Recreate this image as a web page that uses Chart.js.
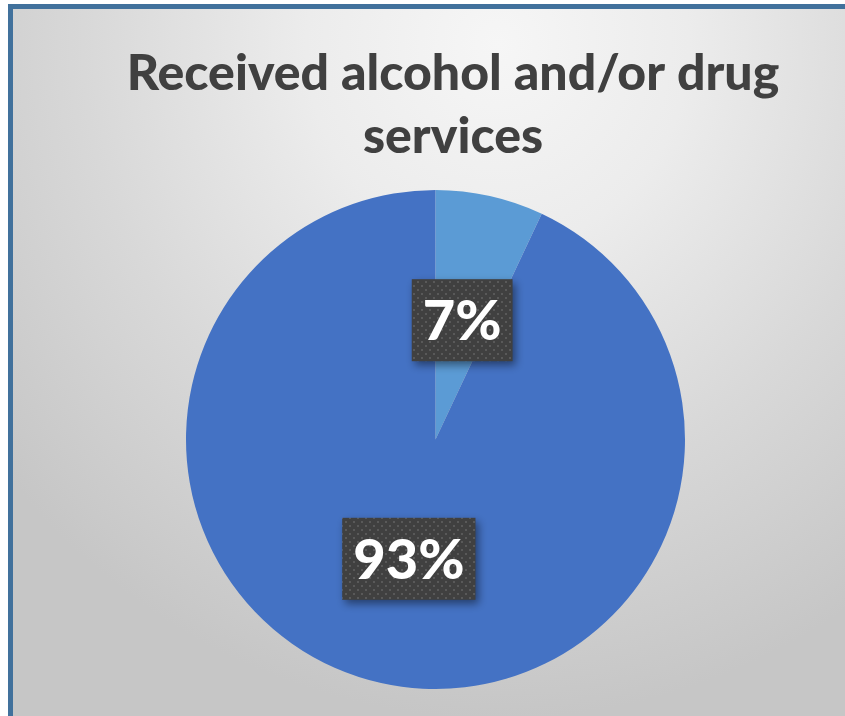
<!DOCTYPE html>
<html>
<head>
<meta charset="utf-8">
<script src="https://cdn.jsdelivr.net/npm/chart.js@4/dist/chart.umd.min.js"></script>
<style>
  html, body { margin: 0; padding: 0; width: 845px; height: 716px; overflow: hidden; background: #ffffff; }
  #frame {
    position: absolute; left: 8px; top: 4px; width: 850px; height: 710px;
    border-left: 5px solid #41719C; border-top: 5px solid #41719C; border-bottom: 2px solid #a9afb8;
    background: radial-gradient(ellipse 75% 95% at 57% 5%, #f6f6f6 0%, #ececec 30%, #d8d8d8 65%, #c6c6c6 100%);
  }
  #c { position: absolute; left: 0; top: 0; }
</style>
</head>
<body>
<div id="frame"></div>
<canvas id="c" width="845" height="716"></canvas>
<script>
const titleLines = ["Received alcohol and/or drug", "services"];
const categories = ["Yes", "No"];
const percentValues = [7, 93];
const sliceColors = ["#5B9BD5", "#4472C4"];

const FONT = "Lato, 'Open Sans', sans-serif";

function makeDotPattern(ctx) {
  const p = document.createElement('canvas');
  p.width = 8; p.height = 8;
  const g = p.getContext('2d');
  g.fillStyle = '#404040';
  g.fillRect(0, 0, 8, 8);
  g.fillStyle = '#595959';
  g.fillRect(1, 1, 2, 2);
  g.fillRect(5, 5, 2, 2);
  return ctx.createPattern(p, 'repeat');
}

const titlePlugin = {
  id: 'customTitle',
  afterDraw(chart) {
    const ctx = chart.ctx;
    ctx.save();
    ctx.fillStyle = '#404040';
    ctx.font = "900 50px " + FONT;
    ctx.textAlign = 'center';
    ctx.textBaseline = 'alphabetic';
    ctx.fillText(titleLines[0], 453, 90);
    ctx.fillText(titleLines[1], 453, 153);
    ctx.restore();
  }
};

const labelPlugin = {
  id: 'boxLabels',
  afterDatasetsDraw(chart) {
    const ctx = chart.ctx;
    const meta = chart.getDatasetMeta(0);
    const pattern = makeDotPattern(ctx);
    meta.data.forEach((arc, i) => {
      const mid = (arc.startAngle + arc.endAngle) / 2;
      const r = arc.outerRadius * 0.49;
      const cx = arc.x + Math.cos(mid) * r;
      const cy = arc.y + Math.sin(mid) * r;
      const text = percentValues[i] + '%';
      ctx.save();
      ctx.font = "900 56px " + FONT;
      const w = ctx.measureText(text).width + 22;
      const h = 82;
      ctx.shadowColor = 'rgba(0,0,0,0.45)';
      ctx.shadowBlur = 8;
      ctx.shadowOffsetX = 3;
      ctx.shadowOffsetY = 4;
      ctx.fillStyle = pattern;
      ctx.fillRect(cx - w / 2, cy - h / 2, w, h);
      ctx.restore();
      ctx.save();
      ctx.font = "900 56px " + FONT;
      ctx.fillStyle = '#ffffff';
      ctx.textAlign = 'center';
      ctx.textBaseline = 'middle';
      ctx.fillText(text, cx, cy + 2);
      ctx.restore();
    });
  }
};

new Chart(document.getElementById('c'), {
  type: 'pie',
  data: {
    labels: categories,
    datasets: [{
      data: percentValues,
      backgroundColor: sliceColors,
      borderWidth: 0
    }]
  },
  options: {
    responsive: false,
    animation: false,
    layout: { padding: { left: 186, right: 160, top: 190, bottom: 27 } },
    plugins: {
      legend: { display: false },
      title: { display: false },
      tooltip: { enabled: false }
    }
  },
  plugins: [titlePlugin, labelPlugin]
});
</script>
</body>
</html>
